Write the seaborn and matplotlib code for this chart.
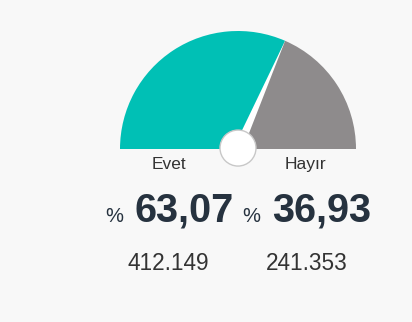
import numpy as np
import matplotlib
matplotlib.use("Agg")
import matplotlib.pyplot as plt
import seaborn as sns
from matplotlib.patches import Polygon, Circle

categories = ["Evet", "Hayır"]
percents = [63.07, 36.93]
counts = [412149, 241353]

sns.set_theme(style="white")
plt.rcParams['font.family'] = ['Liberation Sans', 'DejaVu Sans']

W, H = 412, 322
BG = "#f8f8f8"
colors = ["#00c0b5", "#8e8b8c"]
fig = plt.figure(figsize=(W / 100, H / 100), dpi=100, facecolor=BG)

def fx(x):
    return x / W

def fy(y):
    return 1 - y / H

cx, cy, R = 238, 149, 118
ax = fig.add_axes([fx(cx - R), fy(cy + R), 2 * R / W, 2 * R / H])
ax.set_facecolor(BG)

vals = percents + [sum(percents)]
wedges, _ = ax.pie(vals, colors=colors + ["none"], startangle=180,
                   counterclock=False, radius=1,
                   wedgeprops=dict(linewidth=0))
ax.set_xlim(-1, 1)
ax.set_ylim(-1, 1)
ax.set_aspect("equal")
ax.axis("off")

# needle derived from value
ang = np.deg2rad(180 - 180 * percents[0] / 100)
hw = 4.5 / R
tip = (np.cos(ang), np.sin(ang))
perp = (-np.sin(ang), np.cos(ang))
needle = Polygon([(perp[0] * hw, perp[1] * hw), tip,
                  (-perp[0] * hw, -perp[1] * hw)],
                 closed=True, facecolor="white", edgecolor="none", zorder=3)
ax.add_patch(needle)
ax.add_patch(Circle((0, 0.008), 18 / R, facecolor="white", edgecolor="#c8c8c8",
                    linewidth=1.0, zorder=4))

def fmt_pct(v):
    return f"{v:.2f}".replace(".", ",")

def fmt_cnt(v):
    return f"{v:,}".replace(",", ".")

label_x = [152, 285]
pct_sign_x = [105, 242]
pct_x = [134, 272]
cnt_x = [128, 266]
dark = "#26323f"
for i, cat in enumerate(categories):
    fig.text(fx(label_x[i]), fy(169), cat, fontsize=12.5, color="#333333",
             ha="left", va="baseline")
    fig.text(fx(pct_sign_x[i]), fy(222), "%", fontsize=14.5, color=dark,
             ha="left", va="baseline")
    fig.text(fx(pct_x[i]), fy(222), fmt_pct(percents[i]), fontsize=28.5,
             fontweight="bold", color=dark, ha="left", va="baseline")
    fig.text(fx(cnt_x[i]), fy(270), fmt_cnt(counts[i]), fontsize=16.3,
             color="#333333", ha="left", va="baseline")

fig.savefig("out.png", dpi=100, facecolor=BG)
